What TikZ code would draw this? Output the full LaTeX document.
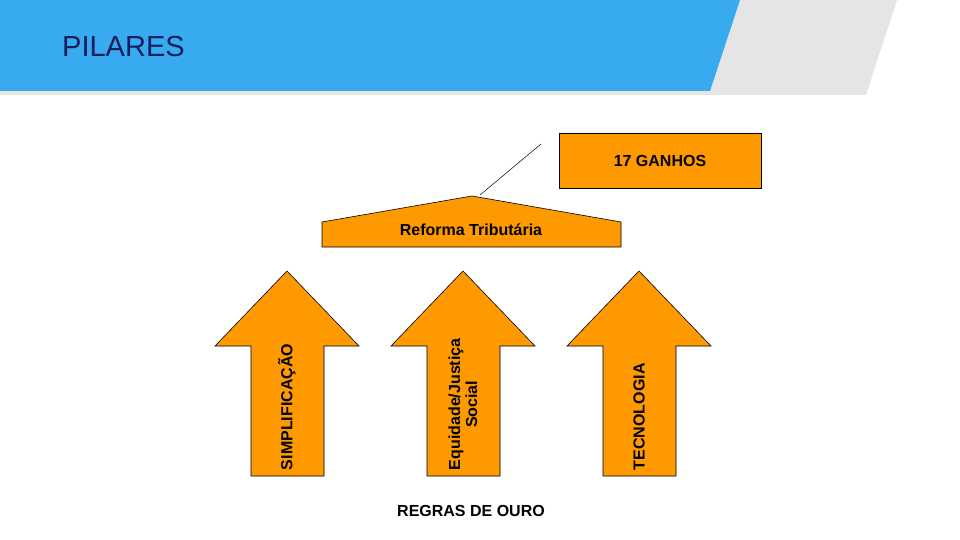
\documentclass[tikz,border=0pt]{standalone}
\usepackage{fontspec}
\setmainfont{Liberation Sans}
\definecolor{barblue}{RGB}{56,170,240}
\definecolor{bargray}{RGB}{229,229,229}
\definecolor{pillar}{RGB}{255,153,0}
\definecolor{titleblue}{RGB}{20,30,90}
\tikzset{
  pillar/.style={fill=pillar, draw=black, line width=0.6pt},
  lbl/.style={inner sep=0.75pt, font=\bfseries\fontsize{16}{17}\selectfont, align=center}
}
\begin{document}
\begin{tikzpicture}[x=1pt,y=1pt,yscale=-1,xscale=1]
\useasboundingbox (0,0) rectangle (960,540);
%Banner
\fill [bargray] (0,0) -- (897,0) -- (866,95) -- (0,95) -- cycle ;
\fill [barblue] (0,0) -- (740,0) -- (710,91) -- (0,91) -- cycle ;
\node (title) [anchor=west, inner sep=0pt, text=titleblue, font=\fontsize{29}{30}\selectfont] at (62,47) {PILARES};
%Roof
\draw [pillar] (322,247) -- (322,222) -- (472,196) -- (621,222) -- (621,247) -- cycle ;
\node (roof) [lbl] at (471,230) {Reforma Tributária};
%Gains box
\draw [pillar] (559,133) rectangle (761,188) ;
\node (ganhos) [lbl] at (660,161) {17 GANHOS};
\coordinate (peak) at (480,195);
\coordinate (lineend) at (541,144);
\draw [line width=0.5pt] (peak) -- (lineend) ;
%Arrows
\foreach \cx/\name/\txt in {287/simp/SIMPLIFICAÇÃO, 463/equi/{Equidade/Justiça\\Social}, 639/tec/TECNOLOGIA}{
  \draw [pillar] (\cx,271) -- (\cx+72,346) -- (\cx+37,346) -- (\cx+37,476) -- (\cx-36,476) -- (\cx-36,346) -- (\cx-72,346) -- cycle ;
  \node (\name) [lbl, rotate=90, anchor=west] at (\cx,471) {\txt};
}
\node (regras) [lbl] at (471,511) {REGRAS DE OURO};
\end{tikzpicture}
\end{document}
